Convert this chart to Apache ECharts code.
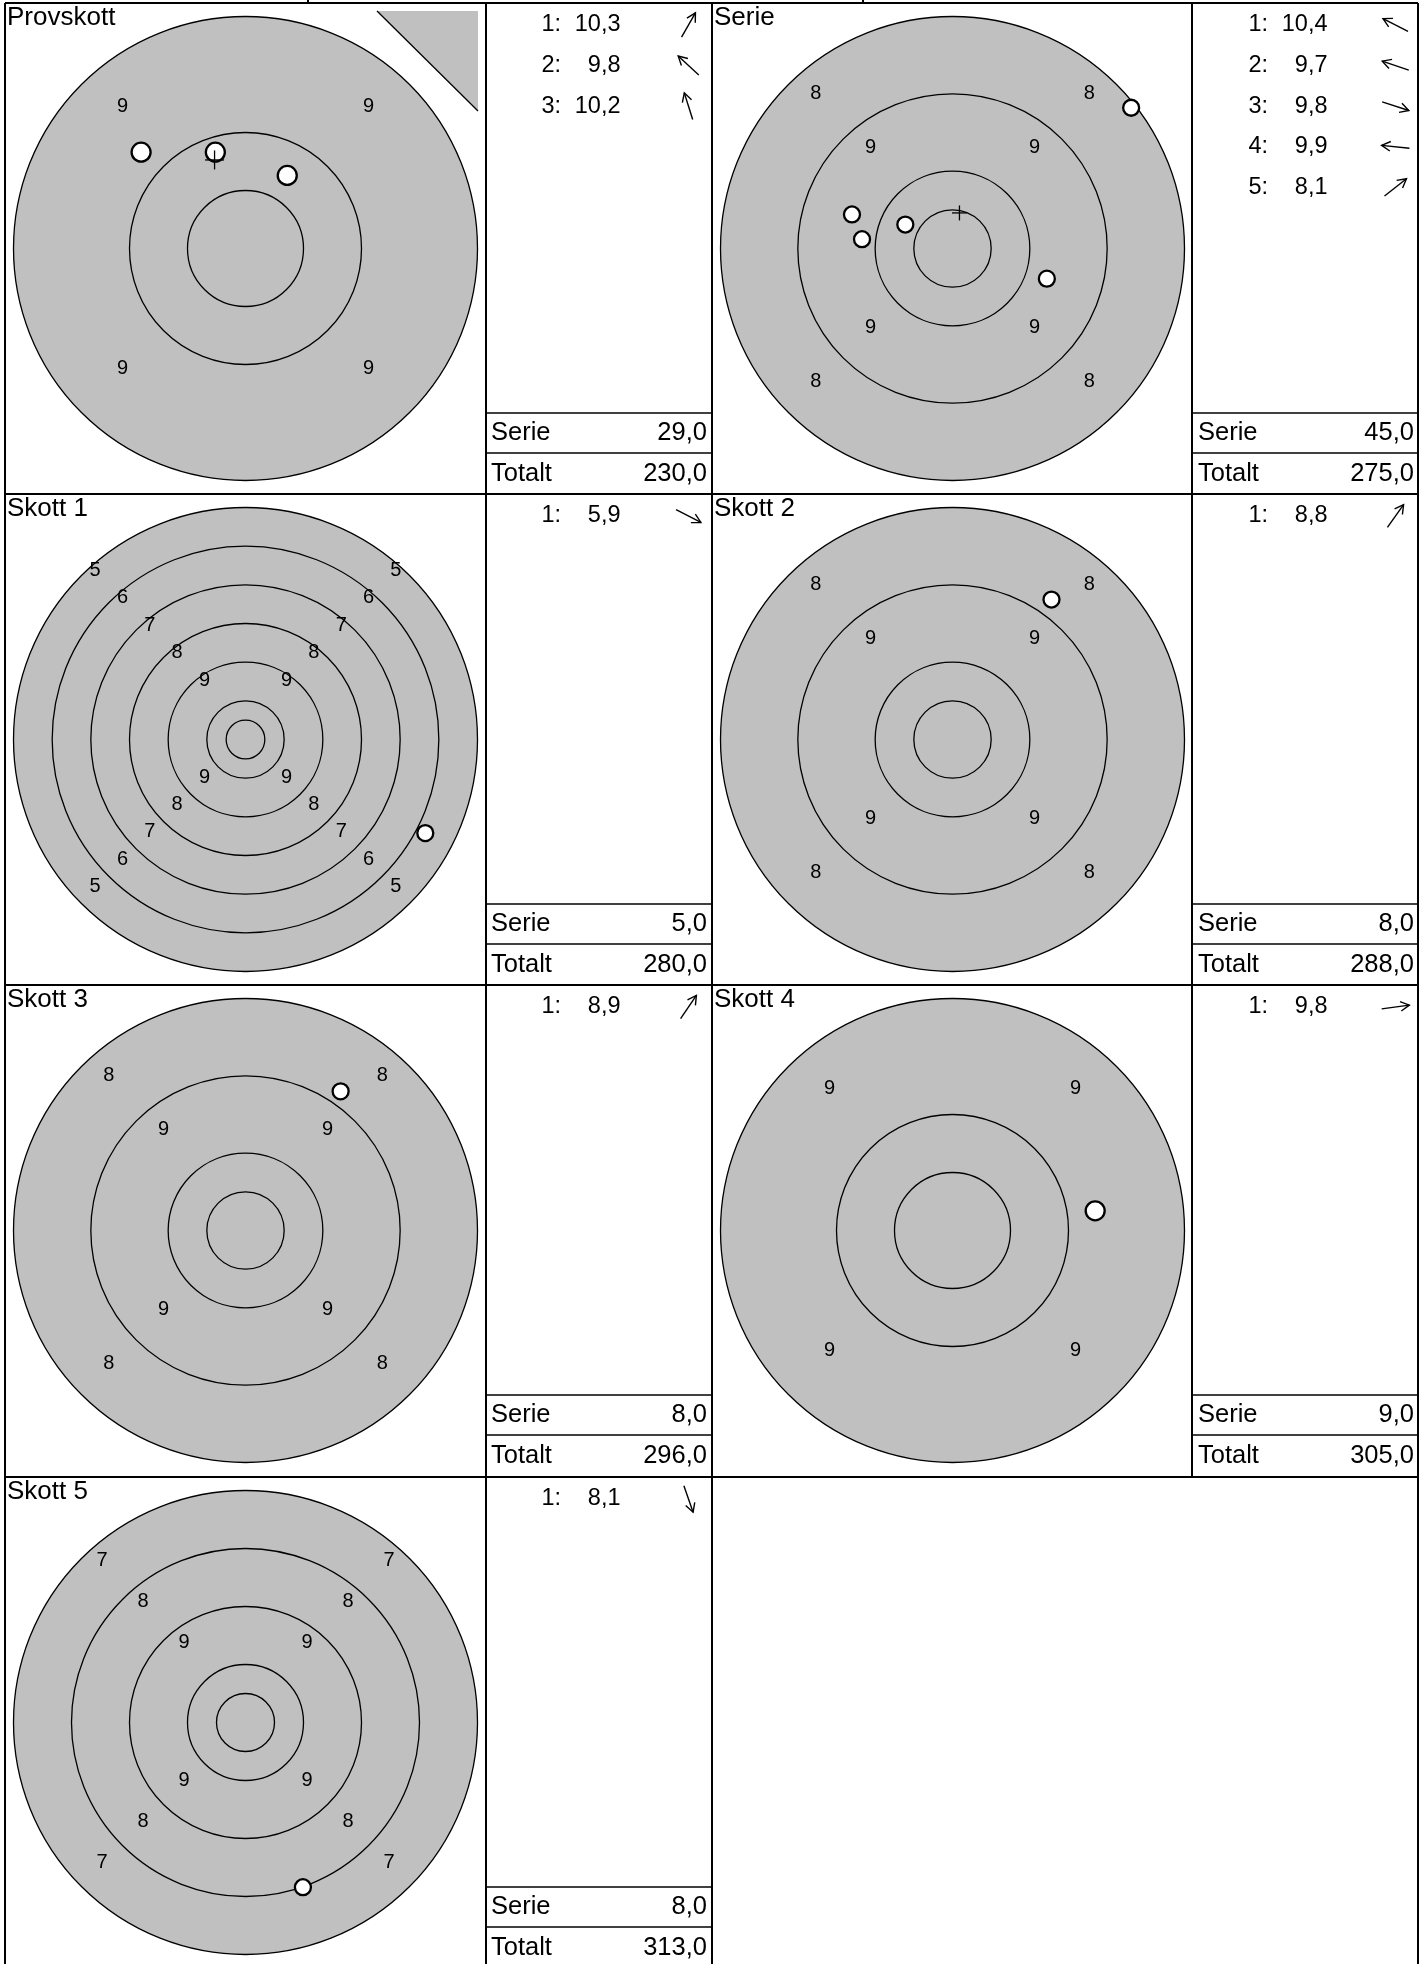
<!DOCTYPE html>
<html><head><meta charset="utf-8">
<script src="https://cdn.jsdelivr.net/npm/echarts/dist/echarts.min.js"></script>
<style>html,body{margin:0;padding:0;background:#fff}#c{width:1424px;height:1964px}</style>
</head><body><div id="c"></div>
<script>
// ---------- DATA ----------
const panelTitles = ['Provskott', 'Serie', 'Skott 1', 'Skott 2', 'Skott 3', 'Skott 4', 'Skott 5'];
// outermost ring shown on each target (zoom level)
const outerRing = [9, 8, 5, 8, 8, 9, 7];
// shot positions in ring widths from centre (x right, y up)
const provX = [0.36, -0.90, -0.26];
const provY = [0.63, 0.83, 0.83];
const provScores = ['10,3', '9,8', '10,2'];
const serieX = [-0.61, -1.30, 1.22, -1.17, 2.31];
const serieY = [0.31, 0.44, -0.39, 0.12, 1.82];
const serieScores = ['10,4', '9,7', '9,8', '9,9', '8,1'];
const skottX = [4.65, 1.28, 1.23, 1.23, 0.99];
const skottY = [-2.42, 1.81, 1.80, 0.17, -2.84];
const skottScores = ['5,9', '8,8', '8,9', '9,8', '8,1'];
const serieSums = ['29,0', '45,0', '5,0', '8,0', '8,0', '9,0', '8,0'];
const totals = ['230,0', '275,0', '280,0', '288,0', '296,0', '305,0', '313,0'];

// ---------- LAYOUT / STYLE ----------
const FONT = '"Liberation Sans", Arial, sans-serif';
const GREY = '#c0c0c0';
const colLeft = [5, 712];
const targetW = 481, textW = 226;
const rowTops = [3, 494, 985, 1477];
const rowH = 491;
const outerPx = 232;

const panels = panelTitles.map((t, k) => {
  let xs, ys, sc;
  if (k === 0) { xs = provX; ys = provY; sc = provScores; }
  else if (k === 1) { xs = serieX; ys = serieY; sc = serieScores; }
  else { xs = [skottX[k - 2]]; ys = [skottY[k - 2]]; sc = [skottScores[k - 2]]; }
  return { title: t, outer: outerRing[k], xs, ys, scores: sc, sum: serieSums[k], total: totals[k] };
});

const grid = [], xAxis = [], yAxis = [], series = [], graphic = [];

function ln(x1, y1, x2, y2, w) {
  graphic.push({ type: 'line', silent: true, z: 50, shape: { x1, y1, x2, y2 }, style: { stroke: '#000', lineWidth: w } });
}
function txt(x, y, text, size, align) {
  graphic.push({ type: 'text', silent: true, z: 50, x, y,
    style: { text, font: size + 'px ' + FONT, fill: '#000', align, textAlign: align, verticalAlign: 'middle', textVerticalAlign: 'middle' } });
}
function arrow(cx, cy, ang) {
  const L = 28, H = 10, a = 0.5;
  const dx = Math.cos(ang), dy = -Math.sin(ang);
  const tx = cx + dx * L / 2, ty = cy + dy * L / 2;
  const bx = cx - dx * L / 2, by = cy - dy * L / 2;
  const back = Math.atan2(-dy, -dx);
  const p1 = [tx + H * Math.cos(back + a), ty + H * Math.sin(back + a)];
  const p2 = [tx + H * Math.cos(back - a), ty + H * Math.sin(back - a)];
  graphic.push({ type: 'polyline', silent: true, z: 50, shape: { points: [[bx, by], [tx, ty]] }, style: { stroke: '#000', lineWidth: 1.4, fill: null } });
  graphic.push({ type: 'polyline', silent: true, z: 50, shape: { points: [p1, [tx, ty], p2] }, style: { stroke: '#000', lineWidth: 1.4, fill: null } });
}

panels.forEach((p, k) => {
  const row = Math.floor(k / 2), col = k % 2;
  const x0 = colLeft[col], y0 = rowTops[row];
  const cx = x0 + targetW / 2, cy = y0 + rowH / 2;
  const tx0 = x0 + targetW;
  const R = 11 - p.outer;
  grid.push({ left: cx - outerPx, top: cy - outerPx, width: outerPx * 2, height: outerPx * 2 });
  xAxis.push({ gridIndex: k, type: 'value', min: -R, max: R, show: false });
  yAxis.push({ gridIndex: k, type: 'value', min: -R, max: R, show: false });

  // rings
  const ringData = [];
  for (let n = p.outer; n <= 10; n++) ringData.push([11 - n, n === p.outer ? 1 : 0]);
  ringData.push([0.5, 0]);
  series.push({
    type: 'custom', xAxisIndex: k, yAxisIndex: k, silent: true, clip: false, z: 1, data: ringData,
    renderItem(params, api) {
      const c = api.coord([0, 0]);
      const r = api.size([api.value(0), 0])[0];
      return { type: 'circle', shape: { cx: c[0], cy: c[1], r },
        style: { fill: api.value(1) ? GREY : 'none', stroke: '#000', lineWidth: 1.3 } };
    }
  });
  // ring numbers
  const labData = [];
  for (let n = p.outer; n <= 9; n++) {
    const c = (10.5 - n) / Math.SQRT2;
    [[-1, 1], [1, 1], [-1, -1], [1, -1]].forEach(([sx, sy]) => labData.push([sx * c, sy * c, n]));
  }
  series.push({
    type: 'custom', xAxisIndex: k, yAxisIndex: k, silent: true, clip: false, z: 2, data: labData,
    renderItem(params, api) {
      const pt = api.coord([api.value(0), api.value(1)]);
      const top = api.value(1) > 0;
      return { type: 'text', x: pt[0], y: pt[1] + (top ? -18.5 : -3.5),
        style: { text: String(api.value(2)), font: '20px ' + FONT, fill: '#000', align: 'center', verticalAlign: 'middle' } };
    }
  });
  // shots
  const big = p.outer === 9;
  series.push({
    type: 'scatter', xAxisIndex: k, yAxisIndex: k, silent: true, z: 3,
    symbol: 'circle', symbolSize: big ? 19 : 16,
    itemStyle: { color: '#fff', borderColor: '#000', borderWidth: 2.3, opacity: 1 },
    data: p.xs.map((x, i) => [x, p.ys[i]])
  });
  // mean point of impact
  if (p.xs.length > 1) {
    const mx = p.xs.reduce((a, b) => a + b, 0) / p.xs.length;
    const my = p.ys.reduce((a, b) => a + b, 0) / p.ys.length;
    const h = big ? 9.5 : 7.5;
    series.push({
      type: 'custom', xAxisIndex: k, yAxisIndex: k, silent: true, clip: false, z: 4, data: [[mx, my]],
      renderItem(params, api) {
        const c = api.coord([api.value(0), api.value(1)]);
        return { type: 'group', children: [
          { type: 'line', shape: { x1: c[0] - h, y1: c[1], x2: c[0] + h, y2: c[1] }, style: { stroke: '#000', lineWidth: 1.3 } },
          { type: 'line', shape: { x1: c[0], y1: c[1] - h, x2: c[0], y2: c[1] + h }, style: { stroke: '#000', lineWidth: 1.3 } }
        ] };
      }
    });
  }
  // title
  txt(x0 + 2, y0 + 15, p.title, 26, 'left');
  // shot list
  p.scores.forEach((s, i) => {
    const yy = y0 + 22 + 40.6 * i;
    txt(tx0 + 55.5, yy, (i + 1) + ':', 23.5, 'left');
    txt(tx0 + 134.5, yy, s, 23.5, 'right');
    arrow(tx0 + 202.5, yy, Math.atan2(p.ys[i], p.xs[i]));
  });
  // Serie / Totalt box
  const yb = y0 + rowH;
  ln(tx0, yb - 81, tx0 + textW, yb - 81, 1.6);
  ln(tx0, yb - 41, tx0 + textW, yb - 41, 1.6);
  txt(tx0 + 5, yb - 61, 'Serie', 25.5, 'left');
  txt(tx0 + 221, yb - 61, p.sum, 25.5, 'right');
  txt(tx0 + 5, yb - 20.5, 'Totalt', 25.5, 'left');
  txt(tx0 + 221, yb - 20.5, p.total, 25.5, 'right');
});

// frame
[3, 494, 985, 1477].forEach(y => ln(5, y, 1418, y, 2));
[5, 486, 712, 1418].forEach(x => ln(x, 3, x, 1964, 2));
ln(1192, 3, 1192, 1477, 2);
// header row fragments above the frame
ln(308, 0, 308, 3, 2);
ln(863, 0, 863, 3, 2);
// corner triangle on the sighting-shot target
graphic.push({ type: 'polygon', silent: true, z: 40, shape: { points: [[377, 11], [478, 11], [478, 111]] }, style: { fill: GREY } });
ln(377, 11, 478, 111, 1.3);

const chart = echarts.init(document.getElementById('c'), null, { renderer: 'canvas', width: 1424, height: 1964 });
chart.setOption({ animation: false, backgroundColor: '#fff', grid, xAxis, yAxis, series, graphic });
</script></body></html>
